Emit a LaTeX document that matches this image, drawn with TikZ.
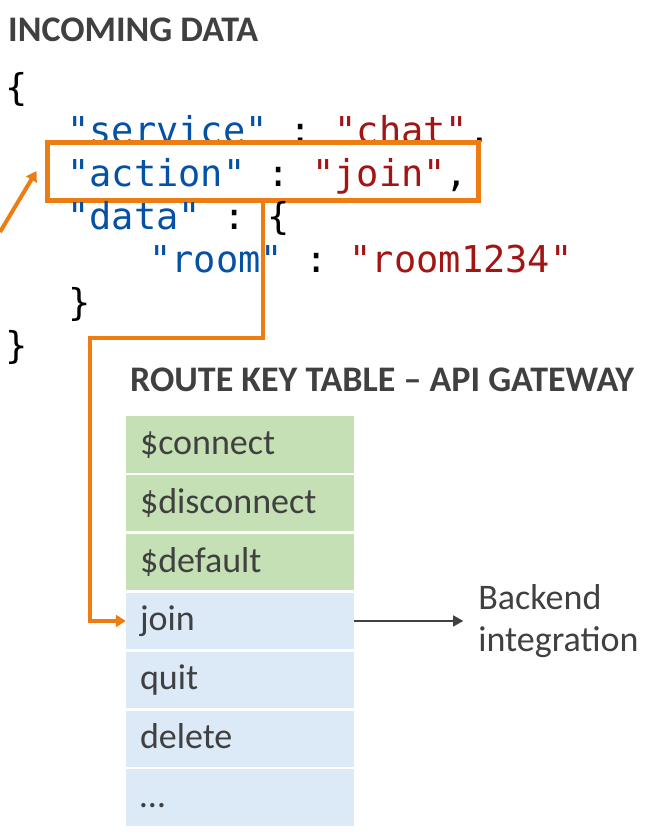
\documentclass[tikz,border=0pt]{standalone}
\usepackage{fontspec}
\setmainfont{Carlito}
\newfontfamily\codefont[Ligatures=TeXOff]{DejaVu Sans Mono}
\usetikzlibrary{positioning, arrows.meta}

\definecolor{hlorange}{HTML}{ED7D11}
\definecolor{keyblue}{HTML}{0451A5}
\definecolor{valred}{HTML}{A31515}
\definecolor{textgray}{HTML}{404040}
\definecolor{fixedgreen}{HTML}{C5E0B4}
\definecolor{customblue}{HTML}{DCE9F6}

\newcommand{\jkey}[1]{\textcolor{keyblue}{"#1"}}
\newcommand{\jval}[1]{\textcolor{valred}{"#1"}}

\tikzset{
  heading/.style={anchor=base west, inner sep=0pt, text=textgray, font=\fontsize{36}{43}\selectfont\bfseries},
  codeline/.style={anchor=base west, inner sep=0pt, font=\fontsize{37}{44}\selectfont\codefont\frenchspacing},
  hlbox/.style={draw=hlorange, line width=5pt, fill=white, minimum width=431pt, minimum height=58pt, inner sep=0pt},
  routerow/.style={inner xsep=14pt, text width=200pt, minimum height=56.5pt, align=left, text height=26pt, text depth=6pt, text=textgray, font=\fontsize{36}{43}\selectfont},
  fixedrow/.style={routerow, fill=fixedgreen},
  customrow/.style={routerow, fill=customblue},
  route/.style={draw=hlorange, line width=4pt, -{Triangle[length=10pt,width=12pt]}},
  link/.style={draw=textgray, line width=1.5pt, -{Triangle[length=10pt,width=11pt]}},
}

\begin{document}
\begin{tikzpicture}[x=1pt, y=-1pt]
\useasboundingbox (0,0) rectangle (655,835);

% incoming message
\node[heading] (intitle) at (8,41) {INCOMING DATA};
\node[codeline] (open) at (5,100) {\{};
\node[codeline] (service) at (67,143) {\jkey{service} : \jval{chat},};
\node[hlbox] (box) at (262.5,171) {};
\node[codeline] (action) at (67,186) {\jkey{action} : \jval{join},};
\node[codeline] (data) at (67,229) {\jkey{data} : \{};
\node[codeline] (room) at (149,272) {\jkey{room} : \jval{room1234}};
\node[codeline] (inclose) at (68,315) {\}};
\node[codeline] (close) at (5,358) {\}};

% route key table
\node[heading] (tabtitle) at (130,391) {ROUTE KEY TABLE – API GATEWAY};
\node[fixedrow] (connect) at (240,444.25) {\$connect};
\node[fixedrow, below=2pt of connect] (disconnect) {\$disconnect};
\node[fixedrow, below=2pt of disconnect] (default) {\$default};
\node[customrow, below=2pt of default] (join) {join};
\node[customrow, below=2pt of join] (quit) {quit};
\node[customrow, below=2pt of quit] (delete) {delete};
\node[customrow, below=2pt of delete] (more) {…};

\node[right=124pt of join, inner sep=0pt, align=left, text=textgray, font=\fontsize{36}{42}\selectfont] (backend) {Backend\\integration};
\draw[link, shorten >=15pt] (join.east) -- (backend.west);

% orange routing
\coordinate (bend) at (90,338);
\coordinate (feed) at (0,232);
\draw[route] (box.south) |- (bend) |- (join.west);
\draw[route] (feed) -- ([xshift=-8pt]box.west);
\end{tikzpicture}
\end{document}
